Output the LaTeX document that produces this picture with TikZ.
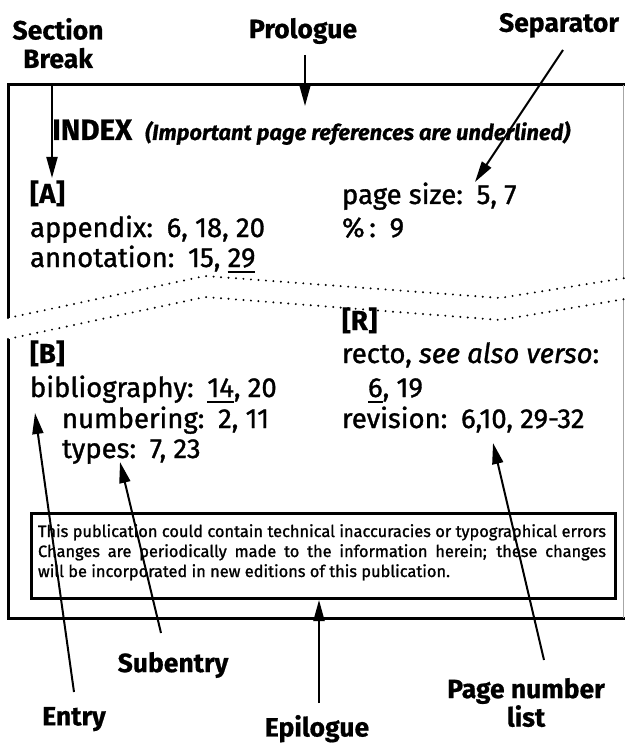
\documentclass[tikz,border=0pt]{standalone}
\usepackage{fontspec}
\setmainfont{Fira Sans}[UprightFeatures={FakeBold=1.2},ItalicFeatures={FakeBold=1.2},BoldFeatures={FakeBold=0.6},BoldItalicFeatures={FakeBold=0.6}]
\usetikzlibrary{arrows.meta}
\newlength\tmpw
\newcommand\calcsize[4]{\settowidth\tmpw{\fontsize{10pt}{12pt}\selectfont #2#3}\pgfmathsetmacro#1{10*#4/\tmpw}\global\let#1#1}
\newcommand\fs[1]{\fontsize{#1pt}{#1pt}\selectfont}
\newcommand\labfs[1]{\fontsize{#1pt}{28.5pt}\selectfont}
\newcommand\cg{\hspace{0.5em}}
\newcommand\ulnum[1]{\setbox0\hbox{#1}\rlap{\rule[-6pt]{\wd0}{2pt}}\box0}
\AtBeginDocument{%
\calcsize\mainsize{}{appendix:\hspace{0.5em}6, 18, 20}{235}%
\calcsize\labsize{\bfseries}{Prologue}{108}%
\calcsize\idxsize{\bfseries}{INDEX}{80}%
\calcsize\parsize{\bfseries\itshape}{(Important page references are underlined)}{425}%
\calcsize\dsize{}{will be incorporated in new editions of this publication.}{412}%
}
\begin{document}
\begin{tikzpicture}[x=1pt,y=-1pt,
  frame/.style={line width=3pt},
  edge/.style={line width=1pt, black!35},
  arr/.style={line width=2pt, -{Triangle[length=21pt,width=11pt]}},
  dots/.style={line width=2.2pt, line cap=round, dash pattern=on 0pt off 7.5pt},
  txt/.style={anchor=base west, inner sep=0pt, outer sep=0pt, font=\fs{\mainsize}},
  lab/.style={anchor=north, inner sep=0pt, outer sep=0pt, align=center, font=\bfseries\labfs{\labsize}},
  disc/.style={anchor=base west, inner sep=0pt, outer sep=0pt, font=\fs{\dsize}}]
\useasboundingbox (0,0) rectangle (625,743);
\fill[white] (0,0) rectangle (625,743);

% frame (torn in the middle)
\draw[frame] (8,318) -- (8,85) -- (625,85);
\draw[frame] (8,339) -- (8,618) -- (625,618);
\draw[edge] (623,85) -- (623,278);
\draw[edge] (623,299) -- (623,618);
\draw[dots] (8,318) -- (205,276) -- (500,298) -- (625,278);
\draw[dots] (8,339) -- (205,297) -- (500,320) -- (625,299);

% labels
\node[lab] (secbreak) at (58,18) {Section\\Break};
\node[lab] (prologue) at (303,18) {Prologue};
\node[lab] (separator) at (559,13) {Separator};
\node[lab] (subentry) at (173,652) {Subentry};
\node[lab] (entry) at (74,707) {Entry};
\node[lab] (epilogue) at (317,715) {Epilogue};
\node[lab] (pnlist) at (526,678) {Page number\\list};

% index content
\node[anchor=base west, inner sep=0pt, font=\bfseries\fs{\idxsize}] (idx) at (52,140) {INDEX};
\node[anchor=base west, inner sep=0pt, font=\bfseries\itshape\fs{\parsize}] (idxnote) at (145,140) {(Important page references are underlined)};
\node[txt] (A) at (30,203) {\bfseries [A]};
\node[txt] (app) at (30,237) {appendix:\cg 6, 18, 20};
\node[txt] (ann) at (30,267) {annotation:\cg 15, \ulnum{29}};
\node[txt] (ps) at (342,204) {page size:\cg 5, 7};
\node[txt] (pct) at (342,237) {\%\,:\cg 9};
\node[txt] (R) at (342,330) {\bfseries [R]};
\node[txt] (B) at (30,363) {\bfseries [B]};
\node[txt] (bib) at (30,397) {bibliography:\cg \ulnum{14}, 20};
\node[txt] (num) at (62,428) {numbering:\cg 2, 11};
\node[txt] (typ) at (62,458) {types:\cg 7, 23};
\node[txt] (rec) at (342,363) {recto, \textit{see also verso}:};
\node[txt] (p619) at (368,397) {\ulnum{6}, 19};
\node[txt] (rev) at (342,428) {revision:\cg 6,10, 29-32};

% epilogue box
\node[draw, line width=2.5pt, minimum width=584pt, minimum height=85pt, inner sep=0pt, anchor=north west] (box) at (30,512) {};
\node[disc] (d1) at (38,537) {\makebox[568pt][s]{This publication could contain technical inaccuracies or typographical errors}};
\node[disc] (d2) at (38,557) {\makebox[568pt][s]{Changes are periodically made to the information herein; these changes}};
\node[disc] (d3) at (38,577) {will be incorporated in new editions of this publication.};

% arrow end points
\coordinate (secS) at (52,85);    \coordinate (secT) at (52,178);
\coordinate (proS) at (305,55);   \coordinate (proT) at (305,106);
\coordinate (sepS) at (563,50);   \coordinate (sepT) at (475,182);
\coordinate (entS) at (74,692);   \coordinate (entT) at (35,413);
\coordinate (subS) at (161,633);  \coordinate (subT) at (120,462);
\coordinate (epiS) at (319,703);  \coordinate (epiT) at (319,600);
\coordinate (pnS) at (544,660);   \coordinate (pnT) at (493,443);

\draw[arr] (secS) -- (secT);
\draw[arr] (proS) -- (proT);
\draw[arr] (sepS) -- (sepT);
\draw[arr] (entS) -- (entT);
\draw[arr] (subS) -- (subT);
\draw[arr] (epiS) -- (epiT);
\draw[arr] (pnS) -- (pnT);
\end{tikzpicture}
\end{document}
